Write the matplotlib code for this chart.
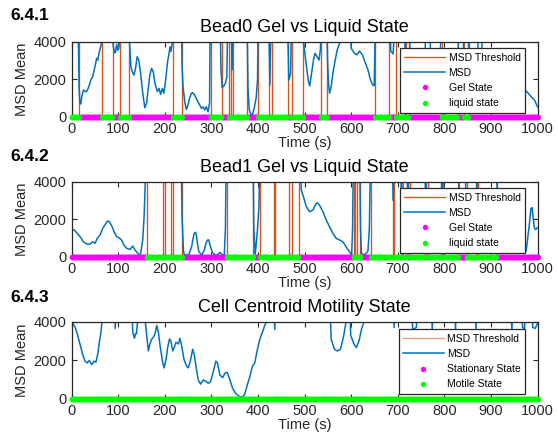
import matplotlib
matplotlib.use('Agg')
import matplotlib.pyplot as plt
import numpy as np

plt.rcParams['font.family'] = ['Liberation Sans', 'DejaVu Sans']

# ---------------- data ----------------
x_ticks = [0, 100, 200, 300, 400, 500, 600, 700, 800, 900, 1000]
y_ticks = [0, 2000, 4000]

# Bead0: MSD mean (values above 4000 are off the top of the axes)
bead0_time = [0,13,16,17.5,19.3,22,25,29,32,35,37.8,41,45,50,53.6,55.8,58.6,62.2,65,67,
              87,89,92,94,96.5,99,101,103,104.5,
              121,123.6,125,127,130,133.6,137,140.6,144,147.6,152.6,156.9,160.6,164,167.8,171.4,175,178.8,183.8,187.4,191,194.6,198,201.8,205.4,209,211,213,216,218,
              235,237,239,242.7,246,249.6,253,257,259.5,264,269,275,278.6,282,285.7,289,292.7,296,297.5,
              318,320.5,323,327,330,333,335.5,
              342.5,344.5,346.5,
              376,378.5,381,384,388,392,396,399,400.5,
              422.5,425.5,428.5,
              463,466,470,472.5,
              495.5,497.5,501,505,508,511,515,519.6,522.5,526.8,531,534,536,
              547,549.5,551.5,553.6,557,560.7,565.7,570,575,578,
              597,600,607,612,618,624,630,636,641,646,649.5,652.5,
              682,685,690,696,
              714,716,718,724,727,758,761,768,771,790,795,
              828,831,840,843,850,853,871,874,879,882,
              940,960,973.4,980,986.3,993.5,1000]
bead0_msd = [6000,6000,1500,800,680,1100,1420,1350,1340,1500,1690,1950,2130,2670,3110,3020,3380,3730,4050,6000,
             6000,3800,3400,3450,3850,3550,3650,4200,6000,
             6000,4200,3560,2670,2400,2220,2580,3200,3020,2400,1250,480,710,1420,2220,2580,2400,1780,1340,1510,1190,1510,1250,1960,2850,3380,3730,3470,3950,6000,
             6000,2600,1600,800,380,620,980,1250,1280,1160,890,620,440,530,355,530,260,750,6000,
             6000,2500,1550,1650,1800,2100,6000,
             6000,2500,6000,
             6000,1500,400,150,110,480,1000,2000,6000,
             6000,1700,6000,
             6000,1950,2300,6000,
             6000,4100,3290,2490,1900,1640,2310,3110,3380,3200,3020,3600,6000,
             6000,2800,1700,1250,1600,2310,3020,3560,3910,6000,
             6000,3650,3380,3300,3500,3300,2900,2500,2000,1700,1650,6000,
             6000,3500,3350,6000,
             6000,3000,6000,6000,2500,2500,6000,6000,2500,2500,6000,
             6000,2500,2500,6000,6000,2500,2500,6000,6000,2500,
             2500,1800,1420,1250,1070,890,530]
# times (s) at which the state switches; Bead0 starts liquid
bead0_switch = [15.7,66,88,104,123.6,218,236.7,298,322,338,342,347,377,401,424,429,464,473,
                496.6,535.6,548.5,652,682,697,714.6,717,724,794,829,842,852]
bead0_start_liquid = True

# Bead1
bead1_time = [0,4,10,18,25,32,39,45,50,55,61,66.5,71.5,76.5,81,86,91,96.5,102,107,112,118,125,131,136,141,145.5,148,152.5,155.4,158,160,
              234.5,237,240,242,247,252,257.5,260,263,266,268,270,273,279,284.7,288,291.8,294,297,302,307.6,313,318,322,327.6,330,332,
              389,391,394,396,399,402,404,
              490,492.8,498.6,503.6,510.7,517.9,522.9,527,532,539.3,546.4,553.5,560.7,567.8,575,582,589,596.3,601,603,605,
              618,620,622,626,631,636,639,642,
              688,690,692,705,708,711,718,722,726,757,760,765,792,795,797,829,833,845,848,868,870,872,910,914,950,968,975.6,980,982.8,986,988.5,990,993.5,996,1000]
bead1_msd = [1390,1450,1300,1070,800,680,660,800,710,980,1160,1510,1690,1900,1870,1640,1330,1070,1010,890,620,445,390,570,355,210,90,180,890,2130,4000,6000,
             6000,2000,300,90,80,150,530,900,1250,1300,1100,700,270,90,355,700,890,900,620,230,90,90,230,125,90,1500,6000,
             6000,1500,150,600,1510,2670,6000,
             6000,3560,3110,2670,2400,2490,2750,2880,2750,2400,1960,1600,1250,980,890,800,530,270,90,1500,6000,
             6000,1500,200,90,150,300,1500,6000,
             6000,3000,6000,6000,3000,6000,6000,3000,6000,6000,3000,6000,6000,3000,6000,6000,3000,3000,6000,6000,3000,6000,6000,3000,2000,700,300,1200,1780,2580,2610,2220,1510,1450,1550]
bead1_switch = [161,196.6,200,213,216.7,237,333,390,405,434,437,466,472,487,605,609,613,620,643,
                689,692,706,712,719,726,758,765,793,797,830,848,869,872,912]
bead1_start_liquid = False

# Cell centroid
cell_time = [0,7,12,17.8,23.6,28.6,33.6,37.9,42.9,48,52,55.8,59.4,62.9,65,67,
             91,93.5,96,
             128,131,134.8,137,139,141,142.5,
             155,158,161,164.6,168,171.8,175.4,179,182.6,186,189.8,194.8,198.4,202.6,206,209.9,212.7,217,220,224,229,232.5,236,241,246.8,250.3,255.4,259.7,263,268,271.7,276.8,282.5,287.6,293.3,298,304,309.6,313,318,324,329,334,339.8,345.5,352.6,359.7,366.8,371.8,376.8,382.5,388,393,398,404,409.6,414.6,418,421,
             432,436,439,
             553,557,564,570,577,584,589,591,
             596,599,606,611,617,622.5,627.5,630,
             689,692,695,
             728,732,740,745,
             771,774,777,
             820,824,827,
             865,868,871,
             940,945,950,
             962,968,972,977,
             985,990,995,1000]
cell_msd = [3990,3730,3370,2840,2300,1950,1860,1990,1770,1950,1900,2300,2930,3460,4000,6000,
            6000,3650,6000,
            6000,3460,3140,3380,3370,3900,6000,
            6000,4000,3280,2480,2840,3100,3200,3370,3810,3460,2750,1950,1600,2040,2660,3100,3020,2480,2660,2930,2840,3140,2750,2040,1680,1600,2040,2570,2300,1500,970,760,970,910,800,880,1410,1950,1860,1240,1090,1330,1370,970,530,260,120,80,260,700,1150,1680,1860,2480,3100,3460,3810,4000,6000,
            6000,3600,6000,
            6000,3100,2570,2480,2570,3280,4000,6000,
            6000,3280,2840,2660,3020,3640,4000,6000,
            6000,3700,6000,
            6000,3600,3700,6000,
            6000,3600,6000,
            6000,3600,6000,
            6000,3600,6000,
            6000,3600,6000,
            6000,3700,3600,6000,
            6000,3700,3650,3900]
cell_switch = []
cell_start_liquid = True

thr_low, thr_high = -500, 20000   # threshold indicator levels (off-scale)

BLUE = '#0072BD'
ORANGE = '#D95319'
MAGENTA = '#FF00FF'
GREEN = '#00FF00'
DARK = '#262626'

W, H = 558, 436
fig = plt.figure(figsize=(W / 100, H / 100), dpi=100)


def make_axes(top_px, bottom_px):
    left = 71.7 / W
    width = 465.8 / W
    return fig.add_axes([left, 1 - bottom_px / H, width, (bottom_px - top_px) / H])


def draw(ax, t, msd, switches, start_liquid, title, gel_lab, liq_lab, thr_color, leg_anchor):
    # threshold indicator line
    st = start_liquid
    tt, ty = [0], [thr_high if st else thr_low]
    for T in switches:
        tt += [T, T]
        ty += [thr_high if st else thr_low, thr_low if st else thr_high]
        st = not st
    tt.append(1000)
    ty.append(thr_high if st else thr_low)
    ax.plot(tt, ty, color=thr_color, lw=0.95, label='MSD Threshold', zorder=2)
    ax.plot(t, msd, color=BLUE, lw=1.1, label='MSD', zorder=2.2)

    grid = np.arange(0, 1001)
    liquid = np.full(grid.shape, start_liquid)
    for T in switches:
        liquid[grid >= T] = ~liquid[grid >= T]
    ax.plot(grid[~liquid], np.zeros((~liquid).sum()), 'o', color=MAGENTA, ms=3.9,
            mew=0, clip_on=False, zorder=3, label=gel_lab)
    ax.plot(grid[liquid], np.zeros(liquid.sum()), 'o', color=GREEN, ms=3.9,
            mew=0, clip_on=False, zorder=3.1, label=liq_lab)

    ax.set_xlim(0, 1000)
    ax.set_ylim(0, 4000)
    ax.set_xticks(x_ticks)
    ax.set_yticks(y_ticks)
    ax.tick_params(direction='in', length=3.5, width=0.8, top=True, right=True,
                   labelsize=10.5, colors=DARK, pad=4)
    for s in ax.spines.values():
        s.set_color(DARK)
        s.set_linewidth(0.9)
    ax.set_xlabel('Time (s)', fontsize=10.5, color=DARK, labelpad=0)
    ax.set_ylabel('MSD Mean', fontsize=10.5, color=DARK, labelpad=3)
    ax.set_title(title, fontsize=13, pad=7)
    leg = ax.legend(loc='upper right', bbox_to_anchor=leg_anchor, borderaxespad=0,
                    fontsize=7.5, handlelength=3.9, handletextpad=0.35,
                    labelspacing=0.5, borderpad=0.42, fancybox=False,
                    framealpha=1, edgecolor=DARK)
    leg.get_frame().set_linewidth(0.9)


ax1 = make_axes(41.7, 116.7)
draw(ax1, bead0_time, bead0_msd, bead0_switch, bead0_start_liquid,
     'Bead0 Gel vs Liquid State', 'Gel State', 'liquid state', ORANGE, (0.973, 0.912))
ax2 = make_axes(181.7, 256.7)
draw(ax2, bead1_time, bead1_msd, bead1_switch, bead1_start_liquid,
     'Bead1 Gel vs Liquid State', 'Gel State', 'liquid state', ORANGE, (0.973, 0.912))
ax3 = make_axes(321.7, 398.7)
draw(ax3, cell_time, cell_msd, cell_switch, cell_start_liquid,
     'Cell Centroid Motility State', 'Stationary State', 'Motile State', '#EE9A70', (0.974, 0.899))

for lab, ypx in [('6.4.1', 15.5), ('6.4.2', 156), ('6.4.3', 297)]:
    fig.text(10 / W, 1 - ypx / H, lab, fontsize=12.5, fontweight='bold', va='center', ha='left')

fig.savefig('out.png', dpi=100)
